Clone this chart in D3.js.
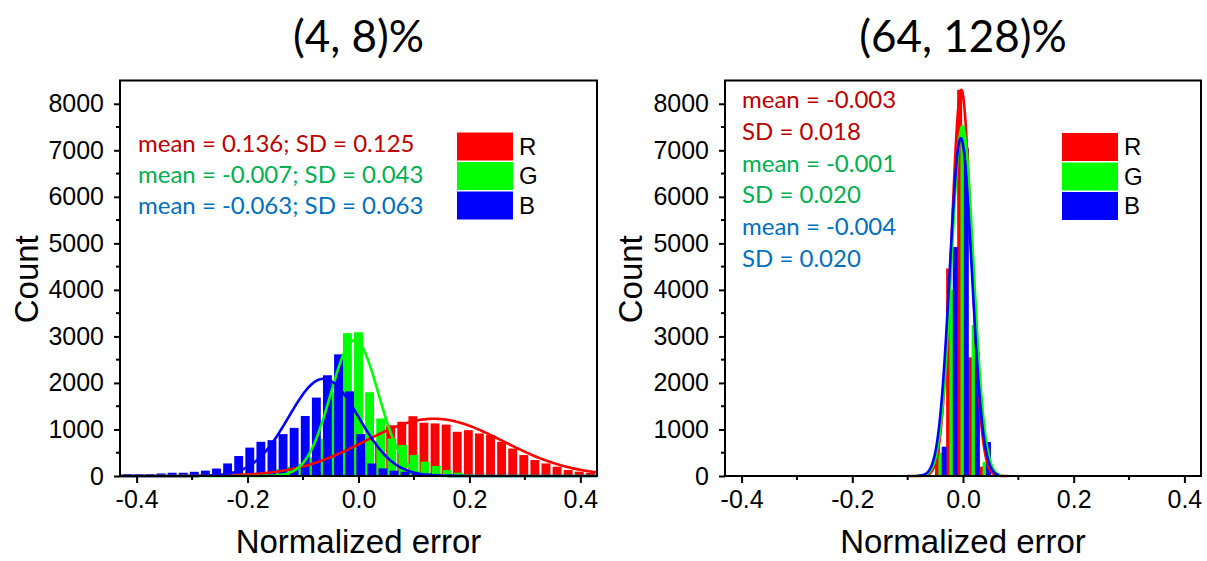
<!DOCTYPE html>
<html>
<head>
<meta charset="utf-8">
<script src="https://cdn.jsdelivr.net/npm/d3@7"></script>
<style>
  body { margin: 0; background: #fff; }
  svg { display: block; }
</style>
</head>
<body>
<svg id="chart" width="1207" height="561"></svg>
<script>
// ---- shared settings ----
const seriesNames = ["R", "G", "B"];
const barColors = ["#ff0000", "#00ff00", "#0000ff"];
const statColors = ["#c00000", "#00b050", "#0070c0"];
const yTicks = [0, 1000, 2000, 3000, 4000, 5000, 6000, 7000, 8000];
const xTicks = [-0.4, -0.2, 0.0, 0.2, 0.4];
const binWidth = 0.02;

// ---- panel (4, 8)% ----
const leftTitle = "(4, 8)%";
const leftMeans = [0.136, -0.007, -0.063];
const leftSDs = [0.125, 0.043, 0.063];
const leftPeaks = [1230, 2920, 2090];
// first bin centre of each series, then the counts
const leftFirstBin = [-0.122, -0.16, -0.416];
const leftCountsR = [20, 30, 50, 90, 150, 220, 350, 500, 750, 1090, 1165, 1285, 1145, 1130, 1105, 950, 985, 915, 880, 735, 590, 450, 343, 270, 200, 130, 93, 70];
const leftCountsG = [60, 150, 200, 260, 400, 800, 1800, 3070, 3090, 1800, 1235, 805, 665, 450, 307, 215, 130, 70, 35, 20, 10];
const leftCountsB = [40, 40, 40, 55, 70, 70, 90, 115, 160, 270, 430, 610, 735, 770, 900, 1035, 1290, 1685, 2165, 2615, 1820, 900, 270, 165, 115, 90, 70, 55, 45, 35, 30, 25, 20, 20, 15, 15, 10, 10, 10, 10, 10, 10];

// ---- panel (64, 128)% ----
const rightTitle = "(64, 128)%";
const rightMeans = [-0.003, -0.001, -0.004];
const rightSDs = [0.018, 0.020, 0.020];
const rightPeaks = [8300, 7520, 7260];
const rightFirstBin = [-0.046, -0.04, -0.034];
const rightCountsR = [630, 4460, 8300, 2550, 200];
const rightCountsG = [500, 4000, 7500, 3240, 300];
const rightCountsB = [630, 4920, 7040, 2660, 730];

const svg = d3.select("#chart");
const sansAxis = "'Liberation Sans', Arial, sans-serif";
const sansText = "Lato, 'Open Sans', sans-serif";

function drawPanel(p) {
  const x = d3.scaleLinear().domain([-0.43, 0.43]).range([p.left, p.right]);
  const y = d3.scaleLinear().domain([0, 8500]).range([p.bottom, p.top]);
  const g = svg.append("g");

  // bars, red under green under blue
  const counts = [p.countsR, p.countsG, p.countsB];
  counts.forEach((arr, s) => {
    g.append("g").selectAll("rect")
      .data(arr.map((c, i) => ({ c: p.firstBin[s] + i * binWidth, v: c })))
      .join("rect")
      .attr("x", d => x(d.c - p.barW / 2))
      .attr("width", x(p.barW) - x(0))
      .attr("y", d => y(d.v))
      .attr("height", d => y(0) - y(d.v))
      .attr("fill", barColors[s]);
  });

  // gaussian fits from the stated mean and SD
  const line = d3.line().x(d => x(d[0])).y(d => y(d[1]));
  [0, 1, 2].forEach(s => {
    const [a, b] = p.curveRange[s];
    const pts = d3.range(a, b + 1e-9, (b - a) / 400).map(v =>
      [v, p.peaks[s] * Math.exp(-0.5 * Math.pow((v - p.means[s]) / p.sds[s], 2))]);
    g.append("path").datum(pts).attr("d", line)
      .attr("fill", "none").attr("stroke", barColors[s])
      .attr("stroke-width", 2.6).attr("stroke-linejoin", "round");
  });

  // frame
  g.append("rect")
    .attr("x", p.left).attr("y", p.top)
    .attr("width", p.right - p.left).attr("height", p.bottom - p.top)
    .attr("fill", "none").attr("stroke", "#000").attr("stroke-width", 2);

  // y axis
  const ya = g.append("g").attr("transform", `translate(${p.left},0)`)
    .call(d3.axisLeft(y).tickValues(yTicks).tickSize(6).tickPadding(10).tickFormat(d3.format("d")));
  const yMinor = d3.range(500, 8500, 1000);
  g.append("g").selectAll("line").data(yMinor).join("line")
    .attr("x1", p.left - 4).attr("x2", p.left)
    .attr("y1", d => y(d)).attr("y2", d => y(d))
    .attr("stroke", "#000").attr("stroke-width", 2);

  // x axis
  const xa = g.append("g").attr("transform", `translate(0,${p.bottom})`)
    .call(d3.axisBottom(x).tickValues(xTicks).tickSize(7).tickPadding(7).tickFormat(d3.format(".1f")));
  const xMinor = [-0.3, -0.1, 0.1, 0.3];
  g.append("g").selectAll("line").data(xMinor).join("line")
    .attr("x1", d => x(d)).attr("x2", d => x(d))
    .attr("y1", p.bottom).attr("y2", p.bottom + 4)
    .attr("stroke", "#000").attr("stroke-width", 2);

  [ya, xa].forEach(a => {
    a.select(".domain").remove();
    a.selectAll(".tick line").attr("stroke", "#000").attr("stroke-width", 2);
    a.selectAll(".tick text").attr("fill", "#000")
      .style("font-family", sansAxis).style("font-size", "25px");
  });
  xa.selectAll(".tick text").text(d => d3.format(".1f")(d).replace("−", "-"));

  // axis titles
  g.append("text")
    .attr("transform", `translate(${p.yLabelX},${(p.top + p.bottom) / 2 + 1}) rotate(-90)`)
    .attr("text-anchor", "middle")
    .style("font-family", sansAxis).style("font-size", "33px")
    .text("Count");
  g.append("text")
    .attr("x", x(0)).attr("y", 553)
    .attr("text-anchor", "middle")
    .style("font-family", sansAxis).style("font-size", "33px")
    .text("Normalized error");

  // panel title
  g.append("text")
    .attr("x", x(0)).attr("y", 52)
    .attr("text-anchor", "middle")
    .style("font-family", sansText).style("font-size", "44px")
    .text(p.title);

  // statistics text
  g.append("g").selectAll("text").data(p.statLines).join("text")
    .attr("x", p.statX).attr("y", (d, i) => p.statY + i * p.statStep)
    .attr("fill", d => statColors[d.s])
    .style("font-family", sansText).style("font-size", p.statSize + "px")
    .text(d => d.t);

  // legend
  const lg = g.append("g").attr("transform", `translate(${p.legendX},${p.legendY})`);
  seriesNames.forEach((n, i) => {
    lg.append("rect").attr("x", 0).attr("y", i * 29.5).attr("width", 56).attr("height", 28)
      .attr("fill", barColors[i]);
    lg.append("text").attr("x", 62).attr("y", i * 29.5 + 22)
      .style("font-family", sansAxis).style("font-size", "24px")
      .text(n);
  });
}

const f3 = d3.format(".3f");
const fmt = v => f3(v).replace("−", "-");

drawPanel({
  left: 120, right: 597, top: 80.5, bottom: 476,
  title: leftTitle,
  countsR: leftCountsR, countsG: leftCountsG, countsB: leftCountsB,
  firstBin: leftFirstBin, barW: 0.016,
  means: leftMeans, sds: leftSDs, peaks: leftPeaks,
  curveRange: [[-0.43, 0.43], [-0.43, 0.43], [-0.43, 0.43]],
  yLabelX: 38,
  statX: 138, statY: 152, statStep: 31, statSize: 24,
  statLines: [0, 1, 2].map(s => ({ s, t: `mean = ${fmt(leftMeans[s])}; SD = ${fmt(leftSDs[s])}` })),
  legendX: 457, legendY: 132.5
});

drawPanel({
  left: 725, right: 1201, top: 80.5, bottom: 476,
  title: rightTitle,
  countsR: rightCountsR, countsG: rightCountsG, countsB: rightCountsB,
  firstBin: rightFirstBin, barW: 0.009,
  means: rightMeans, sds: rightSDs, peaks: rightPeaks,
  curveRange: [[-0.1, 0.082], [-0.085, 0.068], [-0.082, 0.065]],
  yLabelX: 642,
  statX: 742, statY: 108, statStep: 31.8, statSize: 24,
  statLines: [0, 1, 2].flatMap(s => [
    { s, t: `mean = ${fmt(rightMeans[s])}` },
    { s, t: `SD = ${fmt(rightSDs[s])}` }
  ]),
  legendX: 1062, legendY: 133
});
</script>
</body>
</html>
